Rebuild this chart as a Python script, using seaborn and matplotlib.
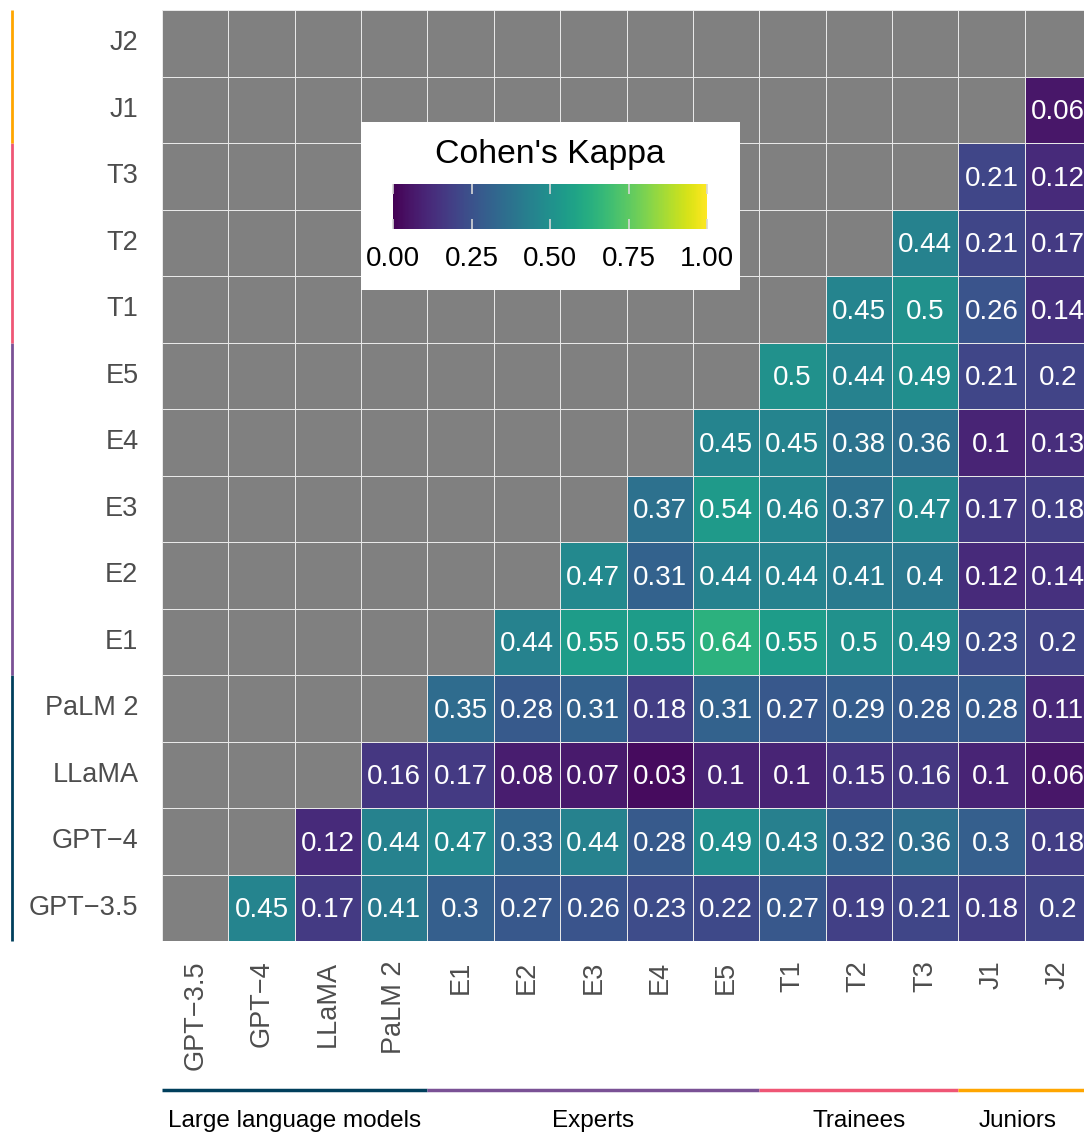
import numpy as np
import pandas as pd
import matplotlib.pyplot as plt
import seaborn as sns
from matplotlib.colors import ListedColormap
from matplotlib.patches import Rectangle

# raters, in column order (left -> right) / row order (bottom -> top)
raters = ["GPT\u22123.5", "GPT\u22124", "LLaMA", "PaLM 2",
          "E1", "E2", "E3", "E4", "E5", "T1", "T2", "T3", "J1", "J2"]

# Cohen's kappa of each rater with every rater that comes after it
k_gpt35 = [0.45, 0.17, 0.41, 0.30, 0.27, 0.26, 0.23, 0.22, 0.27, 0.19, 0.21, 0.18, 0.20]
k_gpt4 = [0.12, 0.44, 0.47, 0.33, 0.44, 0.28, 0.49, 0.43, 0.32, 0.36, 0.30, 0.18]
k_llama = [0.16, 0.17, 0.08, 0.07, 0.03, 0.10, 0.10, 0.15, 0.16, 0.10, 0.06]
k_palm2 = [0.35, 0.28, 0.31, 0.18, 0.31, 0.27, 0.29, 0.28, 0.28, 0.11]
k_e1 = [0.44, 0.55, 0.55, 0.64, 0.55, 0.50, 0.49, 0.23, 0.20]
k_e2 = [0.47, 0.31, 0.44, 0.44, 0.41, 0.40, 0.12, 0.14]
k_e3 = [0.37, 0.54, 0.46, 0.37, 0.47, 0.17, 0.18]
k_e4 = [0.45, 0.45, 0.38, 0.36, 0.10, 0.13]
k_e5 = [0.50, 0.44, 0.49, 0.21, 0.20]
k_t1 = [0.45, 0.50, 0.26, 0.14]
k_t2 = [0.44, 0.21, 0.17]
k_t3 = [0.21, 0.12]
k_j1 = [0.06]

# rater groups: (label, first index, last index + 1, colour)
groups = [("Large language models", 0, 4, "#003F5C"),
          ("Experts", 4, 9, "#7A5195"),
          ("Trainees", 9, 12, "#EF5675"),
          ("Juniors", 12, 14, "#FFA600")]

n = len(raters)
mat = np.full((n, n), np.nan)
for i, vals in enumerate([k_gpt35, k_gpt4, k_llama, k_palm2, k_e1, k_e2, k_e3,
                          k_e4, k_e5, k_t1, k_t2, k_t3, k_j1]):
    mat[i, i + 1:] = vals

df = pd.DataFrame(mat, index=raters, columns=raters).iloc[::-1]
labels = df.map(lambda v: "" if np.isnan(v) else f"{v:g}")

sns.set_style("white")
plt.rcParams["font.family"] = ["Liberation Sans", "DejaVu Sans"]

W, H = 1084, 1133
fig = plt.figure(figsize=(W / 100, H / 100), dpi=100)
ax = fig.add_axes([162 / W, 1 - 941 / H, 929 / W, 931 / H])
cax = fig.add_axes([393 / W, 1 - 229 / H, 314 / W, 45 / H])
cax.set_zorder(3)

grid_col = "#E8E8E8"
# grey background tiles for the empty half
sns.heatmap(pd.DataFrame(0, index=df.index, columns=df.columns),
            cmap=ListedColormap(["#808080"]), cbar=False,
            linewidths=0.7, linecolor=grid_col, ax=ax)

sns.heatmap(df, cmap="viridis", vmin=0, vmax=1,
            annot=labels, fmt="", annot_kws={"color": "white", "size": 20},
            linewidths=0.7, linecolor=grid_col,
            cbar_ax=cax, cbar_kws={"orientation": "horizontal"}, ax=ax)

# nudge cell labels down a touch
for t in ax.texts:
    x, y = t.get_position()
    t.set_position((x, y + 0.04))

ax.set_xlabel("")
ax.set_ylabel("")
ax.tick_params(axis="both", length=0, labelsize=19.5, labelcolor="#4D4D4D")
ax.tick_params(axis="y", pad=17)
ax.tick_params(axis="x", pad=14)
plt.setp(ax.get_xticklabels(), rotation=90, va="top", ha="center")
plt.setp(ax.get_yticklabels(), rotation=0, va="center", ha="right")

# colour bar box
fig.add_artist(Rectangle((361 / W, 1 - 290 / H), 379 / W, 168 / H,
                         transform=fig.transFigure, facecolor="white",
                         edgecolor="none", zorder=2))
fig.text(550 / W, 1 - 155 / H, "Cohen's Kappa", ha="center", va="center",
         fontsize=24.3, color="black", zorder=4)
cbar = ax.collections[1].colorbar
cbar.outline.set_visible(False)
cbar.minorticks_off()
cax.set_axisbelow(False)
cax.set_xticks([0, 0.25, 0.5, 0.75, 1.0])
cax.set_xticklabels(["0.00", "0.25", "0.50", "0.75", "1.00"])
cax.xaxis.set_ticks_position("both")
cax.tick_params(axis="x", which="major", direction="in", length=7, width=1.2,
                color="#D8D8D8", labelcolor="black", labelsize=20, pad=12)

# group markers along the left and bottom
ytr = ax.get_yaxis_transform()
xtr = ax.get_xaxis_transform()
for name, a, b, col in groups:
    ax.plot([-0.1615, -0.1615], [n - a, n - b], transform=ytr, color=col,
            lw=2, clip_on=False, solid_capstyle="butt")
    ax.plot([a, b], [-0.160, -0.160], transform=xtr, color=col,
            lw=2.5, clip_on=False, solid_capstyle="butt")
    cx = (a + b) / 2 if b < n else 12.9
    ax.text(cx, -0.193, name, transform=xtr, ha="center", va="center",
            fontsize=17.5, color="black")

fig.savefig("out.png", dpi=100)
